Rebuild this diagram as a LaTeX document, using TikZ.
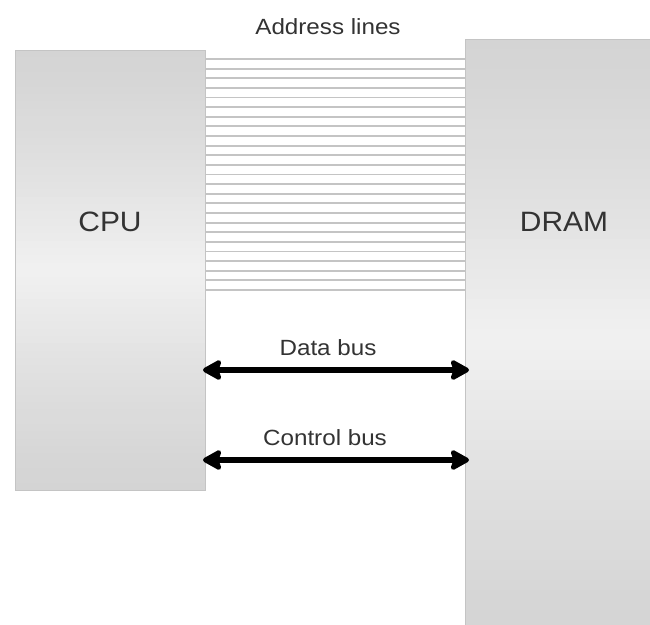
\documentclass[tikz,border=0pt]{standalone}
\usepackage{fontspec}
\setmainfont{Liberation Sans}
\usetikzlibrary{arrows.meta,calc}
\definecolor{boxtop}{HTML}{D4D4D4}
\definecolor{boxmid}{HTML}{F1F1F1}
\definecolor{boxedge}{HTML}{C4C4C4}
\definecolor{wire}{HTML}{C4C4C4}
\definecolor{ink}{HTML}{333333}
% vertical gradient built from thin strips: #1 left, #2 top, #3 right, #4 bottom
\newcommand{\gradbox}[4]{%
  \pgfmathsetmacro{\gbh}{(#4-#2)/60}%
  \foreach \k in {0,...,59} {%
    \pgfmathsetmacro{\gbp}{100*(1-abs(2*(\k+0.5)/60-1))^1.3}%
    \pgfmathsetmacro{\gbya}{#2+\k*\gbh}%
    \pgfmathsetmacro{\gbyb}{#2+(\k+1)*\gbh+0.6}%
    \fill[boxmid!\gbp!boxtop] (#1,\gbya) rectangle (#3,\gbyb);
  }}
\begin{document}
\begin{tikzpicture}[x=1pt,y=-1pt,
  chip/.style={draw=boxedge,line width=1pt,rectangle,inner sep=0pt,anchor=north west},
  chiplabel/.style={text=ink,font=\fontsize{28}{32}\selectfont,xscale=1.07},
  buslabel/.style={text=ink,font=\fontsize{22}{26}\selectfont,xscale=1.1},
  addr/.style={draw=wire,line width=1.8pt},
  bus/.style={draw=black,line width=5.5pt,{Stealth[length=22pt,width=24pt,inset=4pt,round]}-{Stealth[length=22pt,width=24pt,inset=4pt,round]}}]
  \clip (0,0) rectangle (650,624);
  \fill[white] (0,0) rectangle (650,624);

  % shaded bodies of the two blocks
  \gradbox{15}{50}{205}{490}
  \gradbox{465}{39}{665}{640}

  % memory and processor blocks (outlines, named for the wiring)
  \node[chip,minimum width=190pt,minimum height=440pt] (cpu) at (15,50) {};
  \node[chip,minimum width=200pt,minimum height=601pt] (dram) at (465,39) {};
  \node[chiplabel] (cpulbl) at (110,222) {CPU};
  \node[chiplabel] (dramlbl) at (564,222) {DRAM};

  % parallel address lines between the blocks
  \foreach \i in {0,...,24} {
    \pgfmathsetmacro{\yy}{59+9.625*\i}
    \draw[addr] (cpu.east |- 0,\yy) -- (dram.west |- 0,\yy);
  }
  \node[buslabel] (addrlbl) at (328,27) {Address lines};

  % bidirectional buses
  \coordinate (dl) at (203,370);
  \coordinate (dr) at (469,370);
  \coordinate (cl) at (203,460);
  \coordinate (cr) at (469,460);
  \draw[bus] (dl) -- (dr);
  \draw[bus] (cl) -- (cr);
  \node[buslabel] (datalbl) at (328,348) {Data bus};
  \node[buslabel] (ctrllbl) at (325,438) {Control bus};
\end{tikzpicture}
\end{document}
